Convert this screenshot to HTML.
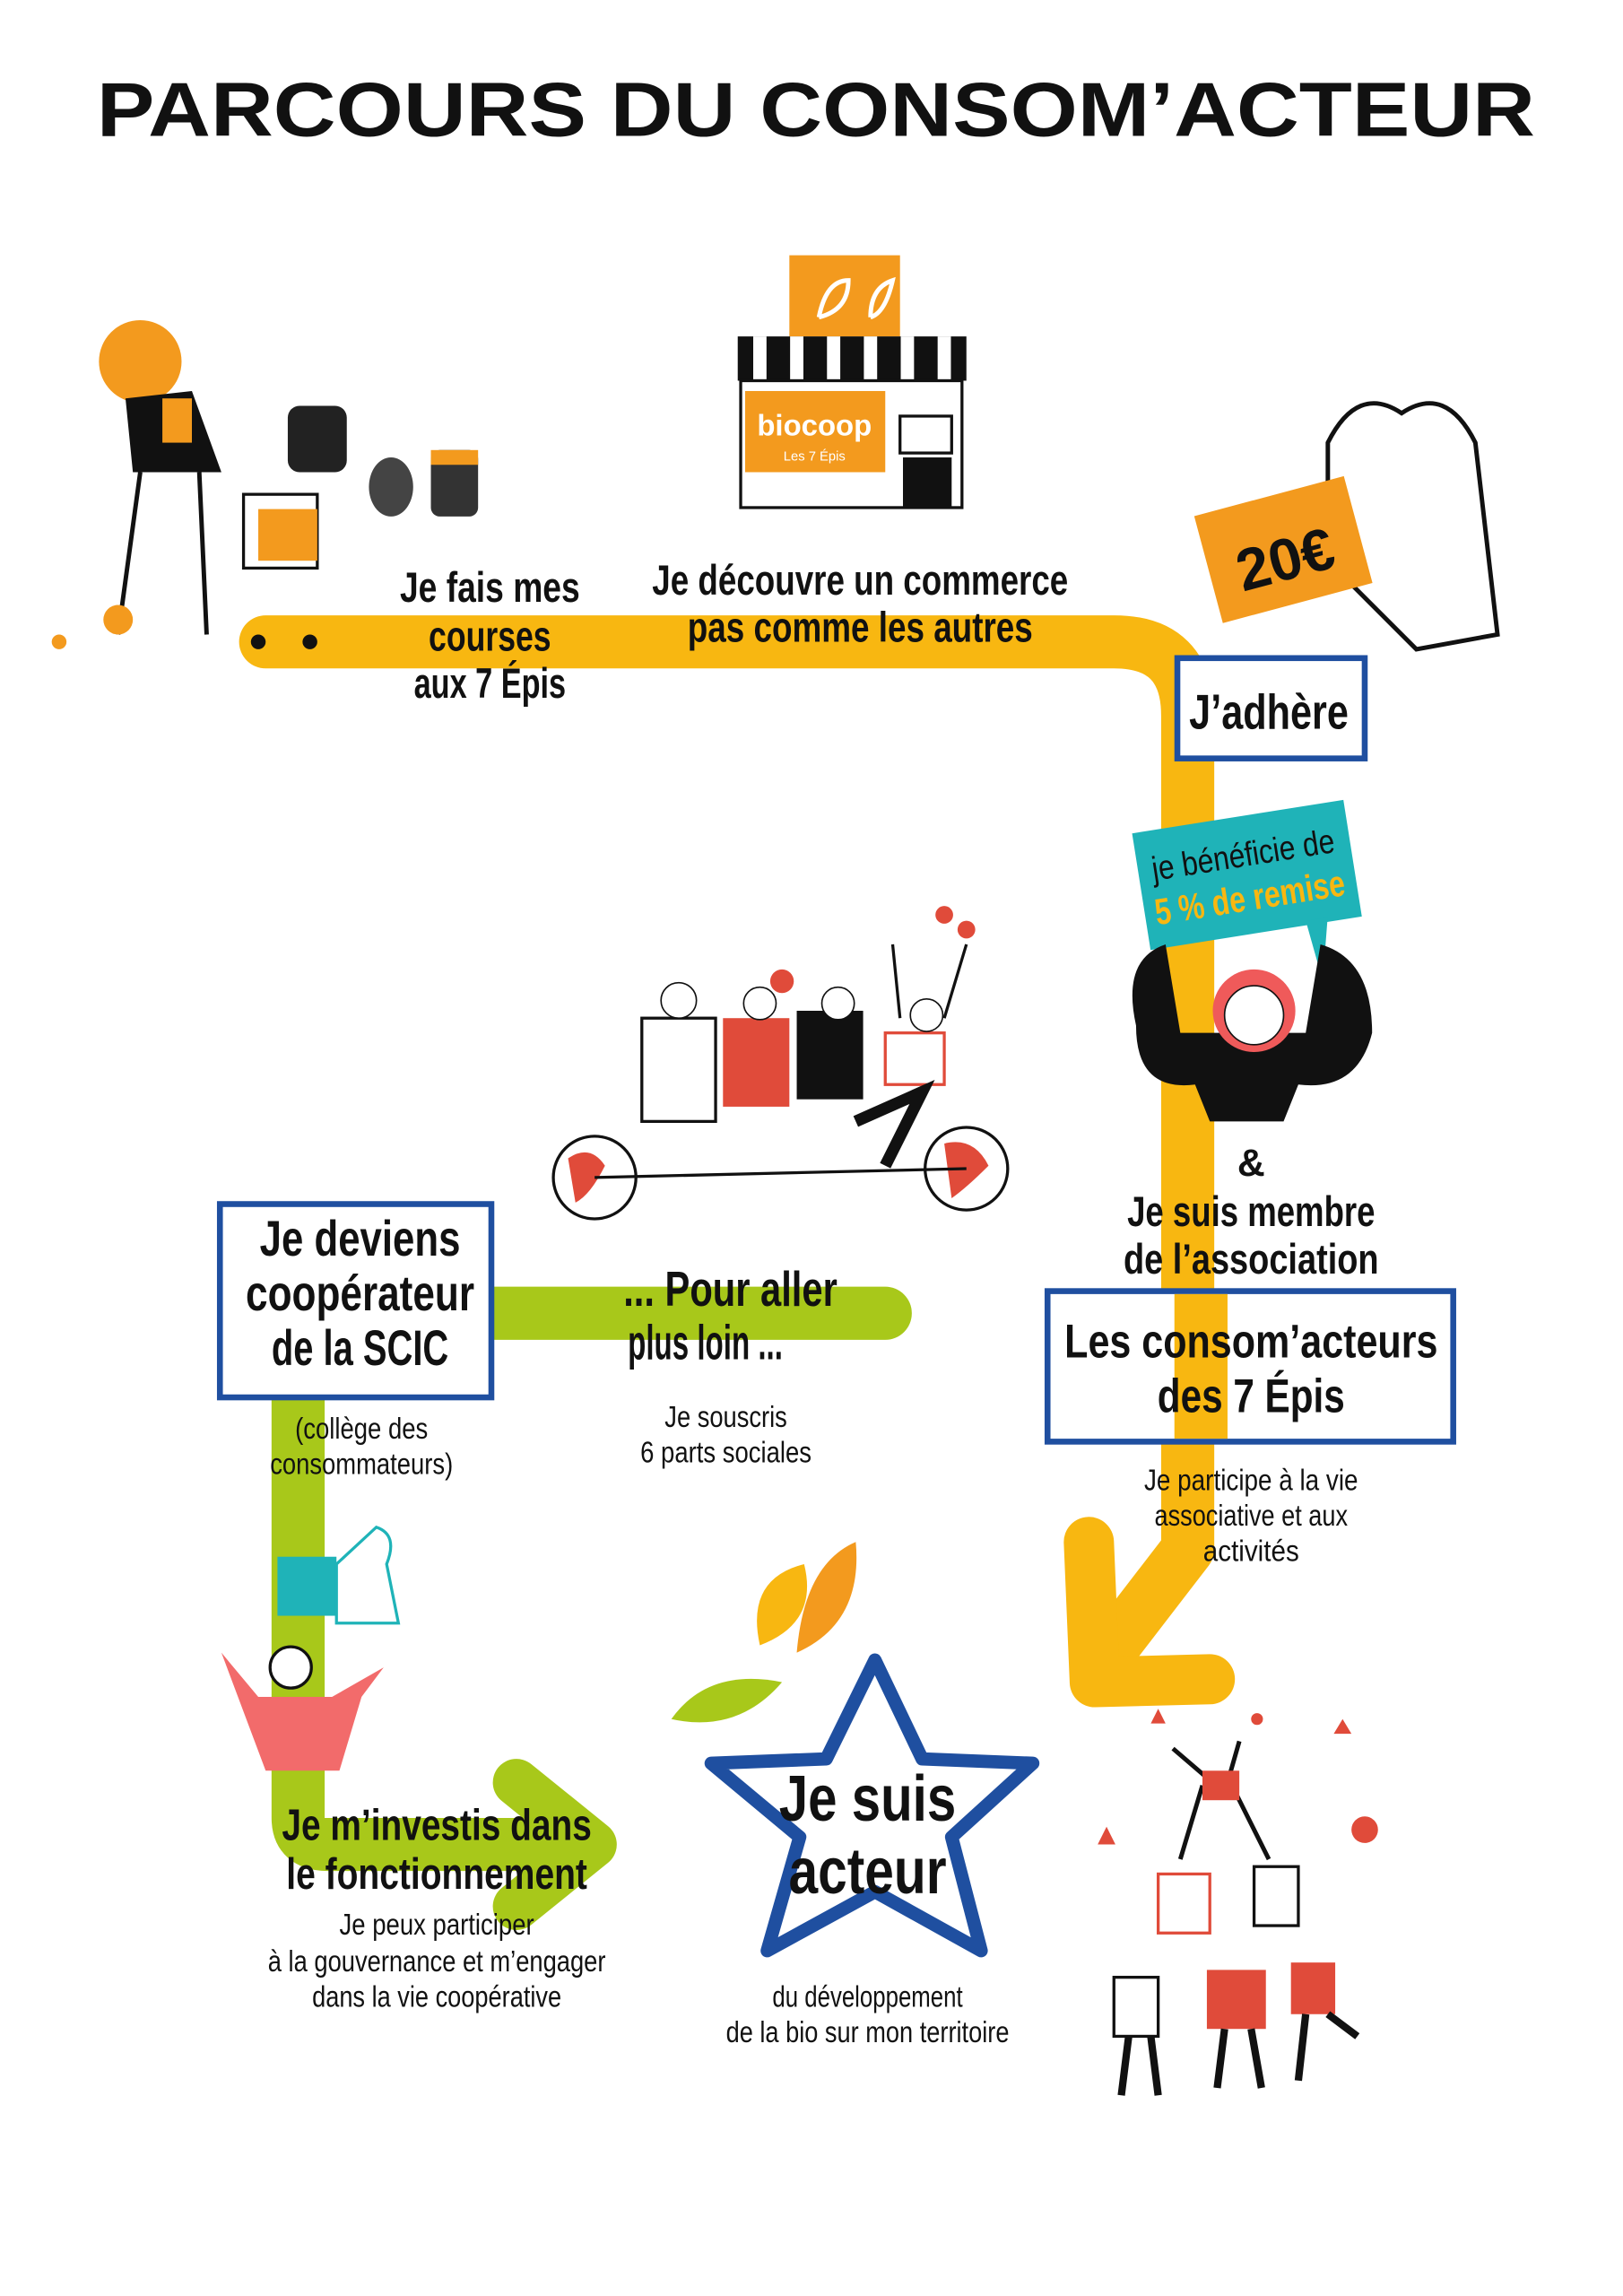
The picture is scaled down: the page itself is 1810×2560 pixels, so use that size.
<!DOCTYPE html>
<html><head><meta charset="utf-8"><style>
html,body{margin:0;padding:0;background:#fff;}
svg{display:block}
text{font-family:"Liberation Sans",sans-serif;font-weight:bold;fill:#111;text-anchor:middle}
.n{font-weight:normal}
</style></head><body>
<svg width="1810" height="2560" viewBox="0 0 1100 1556" xmlns="http://www.w3.org/2000/svg">
<rect width="1100" height="1556" fill="#fff"/>
<text x="553" y="92" font-size="52" textLength="975" lengthAdjust="spacingAndGlyphs" style="font-weight:900">PARCOURS DU CONSOM’ACTEUR</text>

<!-- orange path -->
<path d="M180,435 L755,435 Q805,435 805,485 L805,1050 L755,1115" fill="none" stroke="#f8b711" stroke-width="36" stroke-linecap="round" stroke-linejoin="round"/>
<path d="M738,1045 L742,1140 L820,1138" fill="none" stroke="#f8b711" stroke-width="34" stroke-linecap="round" stroke-linejoin="round"/>
<!-- green path -->
<path d="M600,890 L220,890 Q202,890 202,910 L202,1232 Q202,1250 222,1250 L385,1250" fill="none" stroke="#a8c81a" stroke-width="36" stroke-linecap="round" stroke-linejoin="round"/>
<path d="M350,1208 L402,1250 L350,1292" fill="none" stroke="#a8c81a" stroke-width="32" stroke-linecap="round" stroke-linejoin="round"/>

<!-- shopper -->
<g>
<circle cx="95" cy="245" r="28" fill="#f39a1e"/>
<path d="M85,270 L130,265 L150,320 L90,320 Z" fill="#111"/>
<rect x="110" y="270" width="20" height="30" fill="#f39a1e"/>
<path d="M95,320 L80,430 M135,320 L140,430" stroke="#111" stroke-width="3" fill="none"/>
<rect x="165" y="335" width="50" height="50" fill="none" stroke="#111" stroke-width="2"/>
<rect x="175" y="345" width="40" height="35" fill="#f39a1e"/>
<circle cx="175" cy="435" r="5" fill="#111"/><circle cx="210" cy="435" r="5" fill="#111"/>
<rect x="195" y="275" width="40" height="45" rx="8" fill="#222"/>
<rect x="292" y="305" width="32" height="45" rx="6" fill="#333"/><rect x="292" y="305" width="32" height="10" fill="#f39a1e"/>
<ellipse cx="265" cy="330" rx="15" ry="20" fill="#444"/>
<circle cx="40" cy="435" r="5" fill="#f39a1e"/><circle cx="80" cy="420" r="10" fill="#f39a1e"/>
</g>
<!-- shop -->
<g>
<rect x="535" y="173" width="75" height="55" fill="#f39a1e"/>
<path d="M555,215 Q560,190 575,190 Q575,210 555,215 M590,215 Q590,195 605,190 Q600,212 590,215" stroke="#fff" stroke-width="3" fill="none"/>
<rect x="500" y="228" width="155" height="30" fill="#111"/>
<path d="M515,228 v30 M540,228 v30 M565,228 v30 M590,228 v30 M615,228 v30 M640,228 v30" stroke="#fff" stroke-width="9"/>
<rect x="502" y="258" width="150" height="86" fill="#fff" stroke="#111" stroke-width="2"/>
<rect x="505" y="265" width="95" height="55" fill="#f39a1e"/>
<text x="552" y="295" font-size="20" style="fill:#fff">biocoop</text>
<text x="552" y="312" font-size="9" class="n" style="fill:#fff">Les 7 Épis</text>
<rect x="610" y="282" width="35" height="25" fill="none" stroke="#111" stroke-width="2"/>
<rect x="612" y="310" width="33" height="34" fill="#111"/>
</g>
<!-- hand + 20€ -->
<path d="M900,300 Q920,260 950,280 Q980,260 1000,300 L1015,430 L960,440 Q930,410 900,380 Z" fill="#fff" stroke="#111" stroke-width="3"/>
<g transform="rotate(-15 870 375)"><rect x="818" y="335" width="105" height="75" fill="#f39a1e"/>
<text x="870" y="393" font-size="40">20€</text></g>

<!-- labels top -->
<g font-size="29" lengthAdjust="spacingAndGlyphs">
<text x="332" y="408" textLength="122" lengthAdjust="spacingAndGlyphs">Je fais mes</text>
<text x="332" y="441" textLength="83" lengthAdjust="spacingAndGlyphs">courses</text>
<text x="332" y="473" textLength="103" lengthAdjust="spacingAndGlyphs">aux 7 Épis</text>
<text x="583" y="403" textLength="282" lengthAdjust="spacingAndGlyphs">Je découvre un commerce</text>
<text x="583" y="435" textLength="234" lengthAdjust="spacingAndGlyphs">pas comme les autres</text>
</g>

<rect x="798" y="446" width="127" height="68" fill="#fff" stroke="#1f4fa0" stroke-width="4"/>
<text x="860" y="494" font-size="33" textLength="108" lengthAdjust="spacingAndGlyphs">J’adhère</text>

<!-- bubble -->
<g transform="rotate(-9 845 595)">
<rect x="773" y="553" width="145" height="80" fill="#1fb3b8"/>
<polygon points="880,630 895,630 885,672" fill="#1fb3b8"/>
<text x="845" y="587" font-size="23" class="n" textLength="125" lengthAdjust="spacingAndGlyphs">je bénéficie de</text>
<text x="845" y="617" font-size="25" style="fill:#f8b711" textLength="130" lengthAdjust="spacingAndGlyphs">5 % de remise</text>
</g>
<!-- woman -->
<path d="M770,695 Q760,650 790,640 L800,700 L885,700 L895,640 Q930,650 930,700 Q920,740 880,735 L870,760 L820,760 L810,735 Q770,740 770,695Z" fill="#111"/>
<circle cx="850" cy="685" r="28" fill="#ef5a5a"/><circle cx="850" cy="688" r="20" fill="#fff" stroke="#111"/>

<!-- bike -->
<g>
<circle cx="403" cy="798" r="28" fill="#fff" stroke="#111" stroke-width="2"/><path d="M385,785 Q400,775 410,790 Q400,810 390,815Z" fill="#e04b3a"/>
<circle cx="655" cy="792" r="28" fill="#fff" stroke="#111" stroke-width="2"/><path d="M640,775 Q660,770 670,790 Q655,805 645,812Z" fill="#e04b3a"/>
<path d="M403,798 L655,792" stroke="#111" stroke-width="2"/>
<rect x="435" y="690" width="50" height="70" fill="#fff" stroke="#111" stroke-width="2"/>
<rect x="490" y="690" width="45" height="60" fill="#e04b3a"/>
<rect x="540" y="685" width="45" height="60" fill="#111"/>
<rect x="600" y="700" width="40" height="35" fill="#fff" stroke="#e04b3a" stroke-width="2"/>
<path d="M580,760 L625,740 L600,790" stroke="#111" stroke-width="8" fill="none"/>
<circle cx="460" cy="678" r="12" fill="#fff" stroke="#111"/><circle cx="515" cy="680" r="11" fill="#fff" stroke="#111"/>
<circle cx="568" cy="680" r="11" fill="#fff" stroke="#111"/><circle cx="628" cy="688" r="11" fill="#fff" stroke="#111"/>
<path d="M610,690 L605,640 M640,690 L655,640" stroke="#111" stroke-width="2"/>
<circle cx="640" cy="620" r="6" fill="#e04b3a"/><circle cx="655" cy="630" r="6" fill="#e04b3a"/><circle cx="530" cy="665" r="8" fill="#e04b3a"/>
</g>

<!-- right labels -->
<text x="848" y="797" font-size="26">&amp;</text>
<text x="848" y="831" font-size="29" textLength="168" lengthAdjust="spacingAndGlyphs">Je suis membre</text>
<text x="848" y="863" font-size="29" textLength="173" lengthAdjust="spacingAndGlyphs">de l’association</text>
<rect x="710" y="875" width="275" height="102" fill="#fff" stroke="#1f4fa0" stroke-width="4"/>
<rect x="796" y="877" width="36" height="98" fill="#f8b711"/>
<text x="848" y="920" font-size="32" textLength="253" lengthAdjust="spacingAndGlyphs">Les consom’acteurs</text>
<text x="848" y="957" font-size="32" textLength="127" lengthAdjust="spacingAndGlyphs">des 7 Épis</text>
<text x="848" y="1010" font-size="20" class="n" textLength="145" lengthAdjust="spacingAndGlyphs">Je participe à la vie</text>
<text x="848" y="1034" font-size="20" class="n" textLength="131" lengthAdjust="spacingAndGlyphs">associative et aux</text>
<text x="848" y="1058" font-size="20" class="n" textLength="65" lengthAdjust="spacingAndGlyphs">activités</text>

<!-- SCIC box -->
<rect x="149" y="816" width="184" height="131" fill="#fff" stroke="#1f4fa0" stroke-width="4"/>
<text x="244" y="851" font-size="34" textLength="136" lengthAdjust="spacingAndGlyphs">Je deviens</text>
<text x="244" y="888" font-size="34" textLength="155" lengthAdjust="spacingAndGlyphs">coopérateur</text>
<text x="244" y="925" font-size="34" textLength="120" lengthAdjust="spacingAndGlyphs">de la SCIC</text>
<text x="245" y="975" font-size="20" class="n" textLength="90" lengthAdjust="spacingAndGlyphs">(collège des</text>
<text x="245" y="999" font-size="20" class="n" textLength="124" lengthAdjust="spacingAndGlyphs">consommateurs)</text>
<text x="495" y="885" font-size="33" textLength="145" lengthAdjust="spacingAndGlyphs">... Pour aller</text>
<text x="478" y="921" font-size="33" textLength="105" lengthAdjust="spacingAndGlyphs">plus loin ...</text>
<text x="492" y="967" font-size="20" class="n" textLength="83" lengthAdjust="spacingAndGlyphs">Je souscris</text>
<text x="492" y="991" font-size="20" class="n" textLength="116" lengthAdjust="spacingAndGlyphs">6 parts sociales</text>

<!-- thumbs man -->
<rect x="188" y="1055" width="40" height="40" fill="#1fb3b8"/>
<path d="M228,1060 L255,1035 Q270,1040 262,1060 L270,1100 L228,1100Z" fill="#fff" stroke="#1fb3b8" stroke-width="2"/>
<circle cx="197" cy="1130" r="14" fill="#fff" stroke="#111" stroke-width="2"/>
<path d="M150,1120 L175,1150 L225,1150 L260,1130 L245,1150 L230,1200 L180,1200 Z" fill="#f26b6b"/>

<text x="296" y="1247" font-size="30" textLength="210" lengthAdjust="spacingAndGlyphs">Je m’investis dans</text>
<text x="296" y="1280" font-size="30" textLength="204" lengthAdjust="spacingAndGlyphs">le fonctionnement</text>
<text x="296" y="1311" font-size="20" class="n" textLength="132" lengthAdjust="spacingAndGlyphs">Je peux participer</text>
<text x="296" y="1336" font-size="20" class="n" textLength="229" lengthAdjust="spacingAndGlyphs">à la gouvernance et m’engager</text>
<text x="296" y="1360" font-size="20" class="n" textLength="169" lengthAdjust="spacingAndGlyphs">dans la vie coopérative</text>

<!-- leaves -->
<path d="M515,1115 Q505,1070 545,1060 Q555,1100 515,1115Z" fill="#f8b711"/>
<path d="M540,1120 Q545,1060 580,1045 Q585,1100 540,1120Z" fill="#f39a1e"/>
<path d="M455,1165 Q480,1130 530,1140 Q500,1175 455,1165Z" fill="#a8c81a"/>
<!-- star -->
<polygon points="593,1125 625,1192 700,1195 645,1245 665,1322 593,1282 520,1322 542,1245 482,1195 560,1192" fill="#fff" stroke="#1f4fa0" stroke-width="9" stroke-linejoin="round"/>
<text x="588" y="1234" font-size="44" textLength="120" lengthAdjust="spacingAndGlyphs">Je suis</text>
<text x="588" y="1283" font-size="44" textLength="107" lengthAdjust="spacingAndGlyphs">acteur</text>
<text x="588" y="1360" font-size="20" class="n" textLength="129" lengthAdjust="spacingAndGlyphs">du développement</text>
<text x="588" y="1384" font-size="20" class="n" textLength="192" lengthAdjust="spacingAndGlyphs">de la bio sur mon territoire</text>

<!-- pyramid people -->
<g>
<polygon points="785,1158 790,1168 780,1168" fill="#e04b3a"/><polygon points="910,1165 916,1175 904,1175" fill="#e04b3a"/>
<polygon points="750,1238 756,1250 744,1250" fill="#e04b3a"/><circle cx="925" cy="1240" r="9" fill="#e04b3a"/>
<circle cx="852" cy="1165" r="4" fill="#e04b3a"/>
<path d="M795,1185 L830,1215 L840,1180 M815,1210 L800,1260 M835,1210 L860,1260" stroke="#111" stroke-width="3" fill="none"/>
<rect x="815" y="1200" width="25" height="20" fill="#e04b3a"/>
<rect x="785" y="1270" width="35" height="40" fill="#fff" stroke="#e04b3a" stroke-width="2"/>
<rect x="850" y="1265" width="30" height="40" fill="#fff" stroke="#111" stroke-width="2"/>
<rect x="755" y="1340" width="30" height="40" fill="#fff" stroke="#111" stroke-width="2"/>
<rect x="818" y="1335" width="40" height="40" fill="#e04b3a"/>
<rect x="875" y="1330" width="30" height="35" fill="#e04b3a"/>
<path d="M765,1380 L760,1420 M780,1380 L785,1420 M830,1375 L825,1415 M848,1375 L855,1415 M885,1365 L880,1410 M900,1365 L920,1380" stroke="#111" stroke-width="5"/>
</g>
</svg>
</body></html>
